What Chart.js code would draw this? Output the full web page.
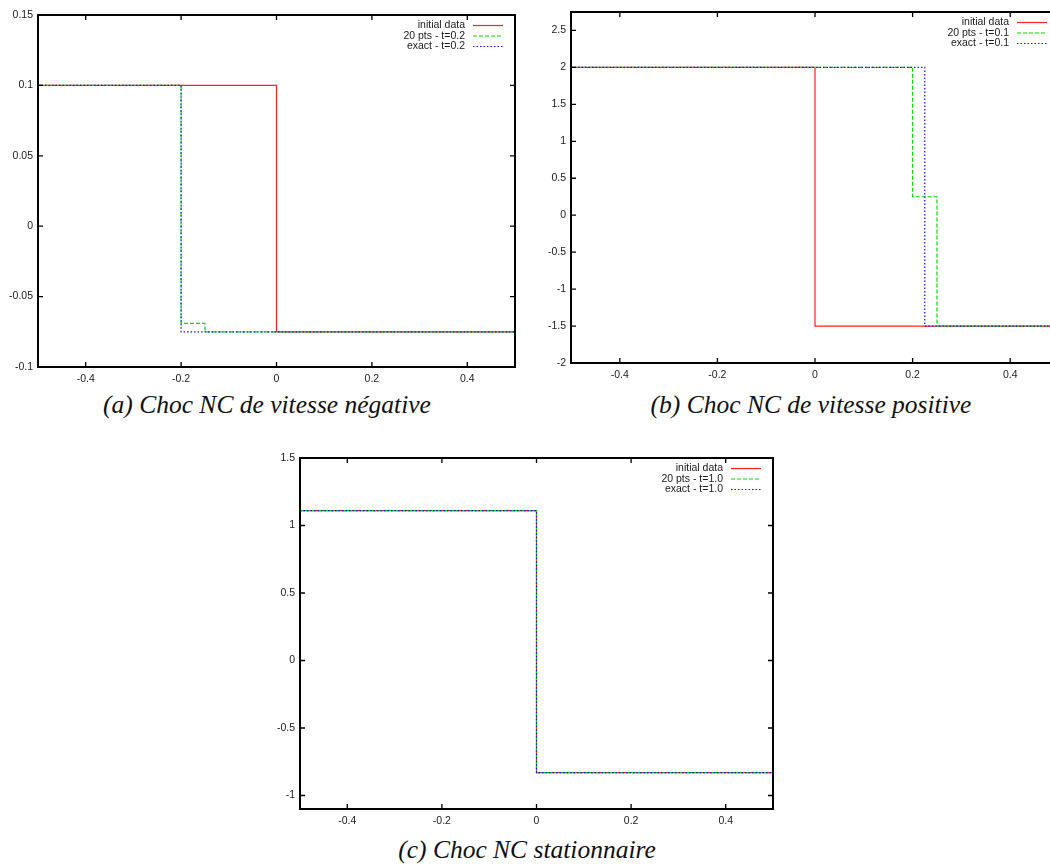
<!DOCTYPE html>
<html>
<head>
<meta charset="utf-8">
<script src="https://cdn.jsdelivr.net/npm/chart.js@4.4.0/dist/chart.umd.min.js"></script>
<style>
  html, body { margin: 0; padding: 0; background: #fff; }
  body { width: 1050px; height: 864px; position: relative; overflow: hidden; }
  canvas { position: absolute; }
  .caption {
    position: absolute;
    font-family: 'Liberation Serif', serif;
    font-style: italic;
    font-size: 25.5px;
    line-height: 25px;
    color: #111;
    white-space: nowrap;
    transform: translateX(-50%);
  }
</style>
</head>
<body>
<canvas id="chartA" width="525" height="390" style="left:0px;top:0px"></canvas>
<canvas id="chartB" width="536" height="386" style="left:533px;top:0px"></canvas>
<canvas id="chartC" width="521" height="387" style="left:262px;top:445px"></canvas>
<div class="caption" style="left:267px;top:392px">(a) Choc NC de vitesse négative</div>
<div class="caption" style="left:811px;top:392px">(b) Choc NC de vitesse positive</div>
<div class="caption" style="left:527px;top:837px">(c) Choc NC stationnaire</div>

<script>
// shared x axis
const xTicks = [-0.4, -0.2, 0, 0.2, 0.4];

// (a) negative speed NC shock - breakpoints (x) and level reached after each break (y)
const aInitX = [-0.5, 0, 0.5];
const aInitY = [0.1, -0.075, -0.075];
const aNumX = [-0.5, -0.2, -0.15, 0.5];
const aNumY = [0.1, -0.069, -0.075, -0.075];
const aExactX = [-0.5, -0.2, 0.5];
const aExactY = [0.1, -0.075, -0.075];
const aYTicks = [-0.1, -0.05, 0, 0.05, 0.1, 0.15];
const aLabels = ['initial data', '20 pts - t=0.2', 'exact - t=0.2'];

// (b) positive speed NC shock
const bInitX = [-0.5, 0, 0.5];
const bInitY = [2, -1.5, -1.5];
const bNumX = [-0.5, 0.2, 0.25, 0.5];
const bNumY = [2, 0.25, -1.5, -1.5];
const bExactX = [-0.5, 0.225, 0.5];
const bExactY = [2, -1.5, -1.5];
const bYTicks = [-2, -1.5, -1, -0.5, 0, 0.5, 1, 1.5, 2, 2.5];
const bLabels = ['initial data', '20 pts - t=0.1', 'exact - t=0.1'];

// (c) stationary NC shock
const cInitX = [-0.5, 0, 0.5];
const cInitY = [1.11, -0.83, -0.83];
const cNumX = [-0.5, 0, 0.5];
const cNumY = [1.11, -0.83, -0.83];
const cExactX = [-0.5, 0, 0.5];
const cExactY = [1.11, -0.83, -0.83];
const cYTicks = [-1, -0.5, 0, 0.5, 1, 1.5];
const cLabels = ['initial data', '20 pts - t=1.0', 'exact - t=1.0'];

Chart.defaults.font.family = "'Liberation Sans', Arial, sans-serif";
Chart.defaults.font.size = 10.5;
Chart.defaults.color = '#1a1a1a';

const pts = (xs, ys) => xs.map((x, i) => ({ x: x, y: ys[i] }));
const fmt = (v) => String(Math.round(v * 1000) / 1000);

// gnuplot-like frame with inward ticks on all four sides
const framePlugin = {
  id: 'frame',
  afterDraw(chart) {
    const { ctx, chartArea: a, scales } = chart;
    ctx.save();
    ctx.strokeStyle = '#000';
    ctx.lineWidth = 1.3;
    ctx.beginPath();
    scales.x.ticks.forEach(t => {
      const px = scales.x.getPixelForValue(t.value);
      ctx.moveTo(px, a.bottom); ctx.lineTo(px, a.bottom - 5);
      ctx.moveTo(px, a.top); ctx.lineTo(px, a.top + 5);
    });
    scales.y.ticks.forEach(t => {
      const py = scales.y.getPixelForValue(t.value);
      ctx.moveTo(a.left, py); ctx.lineTo(a.left + 5, py);
      ctx.moveTo(a.right, py); ctx.lineTo(a.right - 5, py);
    });
    ctx.stroke();
    ctx.lineWidth = 2;
    ctx.strokeRect(a.left, a.top, a.right - a.left, a.bottom - a.top);
    ctx.restore();
  }
};

// key in the top right corner: right-aligned text, sample line after it
const keyPlugin = {
  id: 'key',
  afterDraw(chart) {
    const { ctx, chartArea: a } = chart;
    ctx.save();
    ctx.font = "10.5px 'Liberation Sans', Arial, sans-serif";
    ctx.textAlign = 'right';
    ctx.textBaseline = 'middle';
    chart.data.datasets.forEach((ds, i) => {
      const y = a.top + 10.5 + i * 10.5;
      ctx.fillStyle = '#1a1a1a';
      ctx.fillText(ds.label, a.right - 50, y);
      ctx.strokeStyle = ds.borderColor;
      ctx.lineWidth = ds.borderWidth;
      ctx.setLineDash(ds.borderDash || []);
      ctx.beginPath();
      ctx.moveTo(a.right - 42, y);
      ctx.lineTo(a.right - 12, y);
      ctx.stroke();
    });
    ctx.restore();
  }
};

function makeChart(id, series, labels, yTicks, yMin, yMax, padTop) {
  const styles = [
    { borderColor: '#ff2020', borderDash: [] },
    { borderColor: '#00e000', borderDash: [4, 2] },
    { borderColor: '#1010ff', borderDash: [1.5, 2] }
  ];
  return new Chart(document.getElementById(id), {
    type: 'line',
    data: {
      datasets: series.map((s, i) => ({
        label: labels[i],
        data: pts(s[0], s[1]),
        stepped: 'before',
        order: series.length - i, // initial data underneath, exact on top
        borderColor: styles[i].borderColor,
        borderDash: styles[i].borderDash,
        borderWidth: 1.2,
        pointRadius: 0,
        fill: false
      }))
    },
    options: {
      responsive: false,
      animation: false,
      layout: { padding: { top: padTop, right: 10, left: 0, bottom: 0 } },
      plugins: { legend: { display: false }, tooltip: { enabled: false } },
      scales: {
        x: {
          type: 'linear', min: -0.5, max: 0.5,
          grid: { display: false, drawTicks: false },
          border: { display: false },
          afterBuildTicks: (sc) => { sc.ticks = xTicks.map(v => ({ value: v })); },
          afterFit: (sc) => { sc.height = 23; },
          ticks: { padding: 6, maxRotation: 0, callback: fmt }
        },
        y: {
          type: 'linear', min: yMin, max: yMax,
          grid: { display: false, drawTicks: false },
          border: { display: false },
          afterBuildTicks: (sc) => { sc.ticks = yTicks.map(v => ({ value: v })); },
          afterFit: (sc) => { sc.width = 38; },
          ticks: { padding: 5, callback: fmt }
        }
      }
    },
    plugins: [framePlugin, keyPlugin]
  });
}

makeChart('chartA', [[aInitX, aInitY], [aNumX, aNumY], [aExactX, aExactY]], aLabels, aYTicks, -0.1, 0.15, 15);
makeChart('chartB', [[bInitX, bInitY], [bNumX, bNumY], [bExactX, bExactY]], bLabels, bYTicks, -2, 2.75, 12);
makeChart('chartC', [[cInitX, cInitY], [cNumX, cNumY], [cExactX, cExactY]], cLabels, cYTicks, -1.1, 1.5, 13);
</script>
</body>
</html>
